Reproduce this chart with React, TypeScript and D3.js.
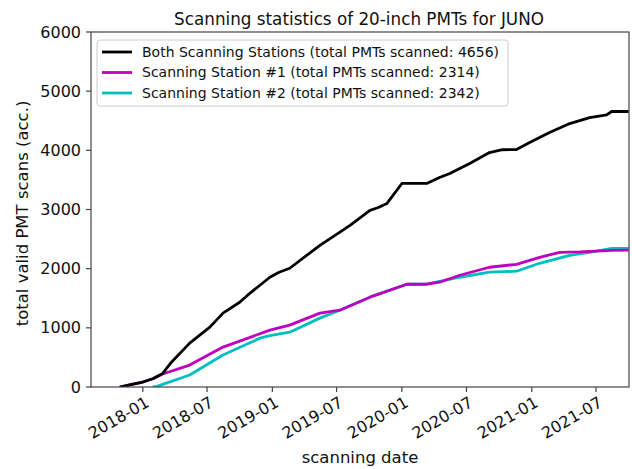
import React from "react";
import * as d3 from "d3";

const bothDates = ["2017-10-28","2017-12-01","2018-01-01","2018-01-29","2018-02-26","2018-03-20","2018-05-13","2018-07-09","2018-08-15","2018-10-01","2018-10-25","2018-11-27","2018-12-25","2019-01-20","2019-02-19","2019-05-15","2019-08-08","2019-10-03","2019-10-25","2019-11-20","2020-01-01","2020-03-11","2020-04-16","2020-05-15","2020-07-10","2020-09-04","2020-10-10","2020-11-19","2020-12-26","2021-02-20","2021-04-18","2021-06-13","2021-07-31","2021-08-14","2021-10-01"];
const bothValues = [0,45,84,140,230,400,742,1012,1248,1433,1560,1720,1855,1940,2007,2395,2732,2985,3030,3103,3440,3440,3541,3609,3777,3963,4010,4014,4132,4300,4452,4553,4600,4656,4656];

const st1Dates = ["2017-10-28","2017-12-01","2018-01-01","2018-01-29","2018-02-26","2018-05-13","2018-08-15","2018-12-25","2019-02-19","2019-05-15","2019-07-10","2019-10-03","2020-01-15","2020-03-11","2020-04-16","2020-06-12","2020-09-04","2020-11-19","2021-01-23","2021-03-21","2021-05-16","2021-08-14","2021-10-01"];
const st1Values = [0,45,84,140,220,371,675,961,1046,1248,1298,1518,1737,1737,1771,1889,2024,2074,2192,2277,2285,2310,2314];

const st2Dates = ["2018-01-29","2018-02-10","2018-05-13","2018-08-15","2018-11-27","2018-12-25","2019-02-19","2019-05-15","2019-07-10","2019-10-03","2020-01-15","2020-03-11","2020-06-12","2020-09-04","2020-11-19","2021-01-23","2021-04-18","2021-06-13","2021-08-14","2021-10-01"];
const st2Values = [0,10,202,540,826,870,927,1164,1298,1518,1737,1740,1855,1940,1957,2091,2226,2277,2344,2342];

const xTickLabels = ["2018-01","2018-07","2019-01","2019-07","2020-01","2020-07","2021-01","2021-07"];
const yTickValues = [0,1000,2000,3000,4000,5000,6000];
const legendLabels = [
  "Both Scanning Stations (total PMTs scanned: 4656)",
  "Scanning Station #1 (total PMTs scanned: 2314)",
  "Scanning Station #2 (total PMTs scanned: 2342)",
];
const seriesColors = ["#000000", "#bf00bf", "#00bfbf"];

const W = 632, H = 469;
const L = 91, R = 629, T = 32, B = 387;
const FONT = "DejaVu Sans, sans-serif";

export default function App() {
  const parse = d3.timeParse("%Y-%m-%d");
  const parseM = d3.timeParse("%Y-%m");
  const x = d3.scaleTime().domain([parse("2017-08-08")!, parse("2021-10-02")!]).range([L, R]);
  const y = d3.scaleLinear().domain([0, 6000]).range([B, T]);
  const line = d3.line<[Date, number]>().x(d => x(d[0])).y(d => y(d[1]));
  const series = [
    bothDates.map((d, i) => [parse(d)!, bothValues[i]] as [Date, number]),
    st1Dates.map((d, i) => [parse(d)!, st1Values[i]] as [Date, number]),
    st2Dates.map((d, i) => [parse(d)!, st2Values[i]] as [Date, number]),
  ];
  const axisColor = "#444";
  return (
    <svg width={W} height={H} style={{ position: "absolute", left: 0, top: 0, background: "#fff" }}>
      <defs>
        <clipPath id="plot"><rect x={L} y={T} width={R - L} height={B - T} /></clipPath>
      </defs>
      <text x={(L + R) / 2 - 1} y={25} textAnchor="middle" fontFamily={FONT} fontSize={16.8} fill="#111">
        Scanning statistics of 20-inch PMTs for JUNO
      </text>
      <g clipPath="url(#plot)" fill="none" strokeLinejoin="round">
        {[2, 1, 0].map(i => (
          <path key={i} d={line(series[i]) || ""} stroke={seriesColors[i]} strokeWidth={2.8} />
        ))}
      </g>
      <rect x={L} y={T} width={R - L} height={B - T} fill="none" stroke={axisColor} strokeWidth={1.2} />
      {yTickValues.map(v => (
        <g key={v}>
          <line x1={L - 5} x2={L} y1={y(v)} y2={y(v)} stroke={axisColor} strokeWidth={1.2} />
          <text x={L - 10} y={y(v)} dy="0.35em" textAnchor="end" fontFamily={FONT} fontSize={16} fill="#111">{v}</text>
        </g>
      ))}
      {xTickLabels.map(t => {
        const xp = x(parseM(t)!);
        return (
          <g key={t}>
            <line x1={xp} x2={xp} y1={B} y2={B + 5} stroke={axisColor} strokeWidth={1.2} />
            <text transform={`translate(${xp + 2},${B + 9}) rotate(-30)`} textAnchor="end" dy="0.7em" fontFamily={FONT} fontSize={16} fill="#111">{t}</text>
          </g>
        );
      })}
      <text x={(L + R) / 2} y={463} textAnchor="middle" fontFamily={FONT} fontSize={16.5} fill="#111">scanning date</text>
      <text transform={`translate(28,${(T + B) / 2 + 4}) rotate(-90)`} textAnchor="middle" fontFamily={FONT} fontSize={16.5} fill="#111">
        total valid PMT scans (acc.)
      </text>
      <rect x={97} y={40} width={411} height={66} rx={3} fill="#fff" fillOpacity={0.85} stroke="#ccc" />
      {legendLabels.map((lab, i) => (
        <g key={lab}>
          <line x1={102} x2={132} y1={52 + i * 20.5} y2={52 + i * 20.5} stroke={seriesColors[i]} strokeWidth={2.8} />
          <text x={142} y={52 + i * 20.5} dy="0.35em" fontFamily={FONT} fontSize={14} fill="#111">{lab}</text>
        </g>
      ))}
    </svg>
  );
}
